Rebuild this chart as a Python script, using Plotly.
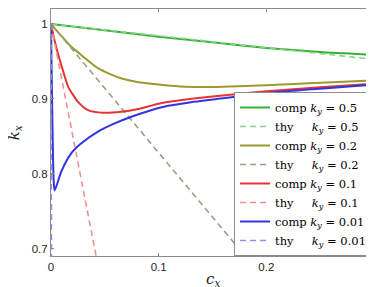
import plotly.graph_objects as go

# ---- data ----
comp05_cx = [0, 0.05, 0.1, 0.15, 0.2, 0.25, 0.3]
comp05_kx = [1, 0.9915, 0.983, 0.9755, 0.968, 0.9625, 0.9588]
thy05_cx = [0, 0.3]
thy05_kx = [1, 0.9526]

comp02_cx = [0, 0.005, 0.01, 0.0176, 0.0269, 0.0362, 0.0436, 0.055, 0.065, 0.08, 0.1, 0.12, 0.14, 0.16, 0.2, 0.25, 0.3]
comp02_kx = [1, 0.9915, 0.9835, 0.9712, 0.960, 0.949, 0.941, 0.933, 0.9275, 0.9225, 0.919, 0.9165, 0.9158, 0.9162, 0.918, 0.9215, 0.9247]
thy02_cx = [0, 0.19]
thy02_kx = [1, 0.6732]

comp01_cx = [0, 0.003, 0.006, 0.01, 0.016, 0.0251, 0.0344, 0.0483, 0.0653, 0.08, 0.1, 0.125, 0.15, 0.2, 0.25, 0.3]
comp01_kx = [1, 0.98, 0.963, 0.943, 0.916, 0.896, 0.885, 0.8814, 0.8827, 0.886, 0.8935, 0.899, 0.903, 0.910, 0.9155, 0.9203]
thy01_cx = [0, 0.045]
thy01_kx = [1, 0.667]

comp001_cx = [0, 0.0025, 0.0034, 0.0096, 0.0189, 0.0282, 0.0436, 0.0591, 0.0746, 0.0901, 0.1086, 0.13, 0.15, 0.21, 0.3]
comp001_kx = [1, 0.79, 0.7775, 0.803, 0.8274, 0.8406, 0.8562, 0.8672, 0.8761, 0.8835, 0.8906, 0.8955, 0.899, 0.909, 0.919]
thy001_cx = [0, 0.0005]
thy001_kx = [1, 0.63]

x_tickvals = [0, 0.1, 0.2, 0.3]
x_ticktext = ["0", "0.1", "0.2", "0.3"]
y_tickvals = [0.7, 0.8, 0.9, 1.0]
y_ticktext = ["0.7", "0.8", "0.9", "1"]

SP = "\u00a0"
series = [
    (comp05_cx, comp05_kx, "comp <i>k</i><sub><i>y</i></sub> = 0.5", "#33b333", "solid", 2),
    (thy05_cx, thy05_kx, "thy" + SP * 5 + "<i>k</i><sub><i>y</i></sub> = 0.5", "#8fd08f", "6px,4px", 1.6),
    (comp02_cx, comp02_kx, "comp <i>k</i><sub><i>y</i></sub> = 0.2", "#9a9a2e", "solid", 2),
    (thy02_cx, thy02_kx, "thy" + SP * 5 + "<i>k</i><sub><i>y</i></sub> = 0.2", "#9c9c88", "6px,4px", 1.6),
    (comp01_cx, comp01_kx, "comp <i>k</i><sub><i>y</i></sub> = 0.1", "#e83333", "solid", 2),
    (thy01_cx, thy01_kx, "thy" + SP * 5 + "<i>k</i><sub><i>y</i></sub> = 0.1", "#f09090", "6px,4px", 1.6),
    (comp001_cx, comp001_kx, "comp <i>k</i><sub><i>y</i></sub> = 0.01", "#3333e6", "solid", 2),
    (thy001_cx, thy001_kx, "thy" + SP * 5 + "<i>k</i><sub><i>y</i></sub> = 0.01", "#8f8ff0", "6px,4px", 1.6),
]

fig = go.Figure()
for cx, kx, name, color, dash, w in series:
    fig.add_trace(go.Scatter(x=cx, y=kx, mode="lines", name=name,
                             line=dict(color=color, dash=dash, width=w, shape="spline", smoothing=0.6)))

axis_common = dict(showgrid=False, zeroline=False, showline=True, linecolor="#8c8c8c", linewidth=1,
                   mirror="ticks", ticks="inside", ticklen=3, tickcolor="#8c8c8c",
                   tickfont=dict(family="Liberation Sans, Arial", size=11.5, color="#262626"))

fig.update_layout(
    width=374, height=287,
    margin=dict(l=43, r=8, t=1, b=39),
    paper_bgcolor="white", plot_bgcolor="white",
    showlegend=True,
    legend=dict(x=0.994, y=0.664, xanchor="right", yanchor="top",
                bgcolor="white", bordercolor="#8c8c8c", borderwidth=1,
                font=dict(family="DejaVu Serif", size=11.5, color="#000000"),
                tracegroupgap=0, itemwidth=30),
    xaxis=dict(range=[0, 0.3], tickvals=x_tickvals, ticktext=x_ticktext, **axis_common),
    yaxis=dict(range=[0.69, 1.02], tickvals=y_tickvals, ticktext=y_ticktext, **axis_common),
    annotations=[
        dict(text="<i>c</i><sub><i>x</i></sub>", xref="paper", yref="paper", x=0.5, y=-0.095,
             xanchor="center", yanchor="middle", showarrow=False,
             font=dict(family="DejaVu Serif", size=15, color="#262626")),
        dict(text="<i>k</i><sub><i>x</i></sub>", xref="paper", yref="paper", x=-0.112, y=0.5,
             xanchor="center", yanchor="middle", showarrow=False, textangle=-90,
             font=dict(family="DejaVu Serif", size=15, color="#262626")),
    ],
)

fig.write_html("out.html")
